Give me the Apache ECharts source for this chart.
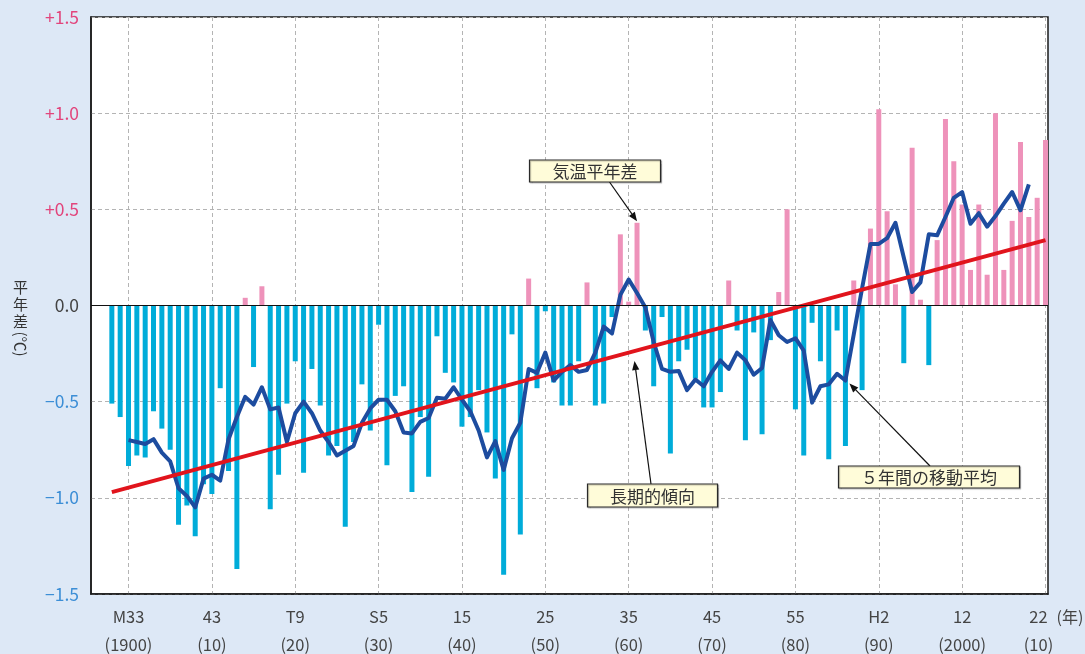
<!DOCTYPE html>
<html><head><meta charset="utf-8">
<script src="https://cdn.jsdelivr.net/npm/echarts@6/dist/echarts.min.js"></script>
<style>html,body{margin:0;padding:0;background:#DDE8F6;}#c{width:1085px;height:654px;}</style>
</head><body><div id="c"></div>
<script>
// ---- data ----
const firstYear = 1898;
const anomaly = [
 -0.51,-0.58,-0.835,-0.78,-0.79,-0.55,-0.64,-0.75,-1.14,-1.04,
 -1.20,-0.93,-0.98,-0.43,-0.86,-1.37,0.04,-0.32,0.10,-1.06,
 -0.88,-0.51,-0.29,-0.87,-0.33,-0.52,-0.78,-0.73,-1.15,-0.71,
 -0.41,-0.65,-0.10,-0.83,-0.47,-0.42,-0.97,-0.58,-0.89,-0.16,
 -0.35,-0.40,-0.63,-0.58,-0.44,-0.66,-0.90,-1.40,-0.15,-1.19,
 0.14,-0.43,-0.03,-0.40,-0.52,-0.52,-0.29,0.12,-0.52,-0.51,
 -0.06,0.37,0.02,0.43,-0.13,-0.42,-0.06,-0.77,-0.29,-0.23,
 -0.38,-0.53,-0.53,-0.45,0.13,-0.13,-0.70,-0.14,-0.67,-0.18,
 0.07,0.50,-0.54,-0.78,-0.09,-0.29,-0.80,-0.13,-0.73,0.13,
 -0.44,0.40,1.02,0.49,0.11,-0.30,0.82,0.03,-0.31,0.34,
 0.97,0.75,0.525,0.185,0.525,0.16,1.00,0.185,0.44,0.85,
 0.46,0.56,0.86
];
const maStartYear = 1900;
const movingAvg = [
 -0.70,-0.71,-0.72,-0.695,-0.765,-0.81,-0.95,-0.99,-1.05,-0.90,
 -0.88,-0.91,-0.695,-0.58,-0.475,-0.515,-0.425,-0.54,-0.53,-0.71,
 -0.56,-0.50,-0.56,-0.65,-0.71,-0.78,-0.755,-0.73,-0.61,-0.535,
 -0.49,-0.49,-0.55,-0.66,-0.665,-0.605,-0.585,-0.48,-0.485,-0.425,
 -0.49,-0.55,-0.65,-0.79,-0.705,-0.855,-0.69,-0.61,-0.33,-0.35,
 -0.245,-0.39,-0.345,-0.31,-0.345,-0.335,-0.245,-0.11,-0.145,0.055,
 0.135,0.065,-0.01,-0.19,-0.33,-0.345,-0.34,-0.44,-0.385,-0.42,
 -0.345,-0.285,-0.33,-0.245,-0.285,-0.36,-0.325,-0.075,-0.155,-0.19,
 -0.17,-0.235,-0.505,-0.42,-0.41,-0.355,-0.39,-0.15,0.09,0.32,
 0.32,0.35,0.43,0.25,0.07,0.12,0.37,0.365,0.46,0.56,
 0.59,0.425,0.48,0.41,0.465,0.53,0.59,0.495,0.63
];
const trendYears = [1898, 2010];
const trendValues = [-0.97, 0.34];
const tickYears = [1900,1910,1920,1930,1940,1950,1960,1970,1980,1990,2000,2010];
const eraLabels = ['M33','43','T9','S5','15','25','35','45','55','H2','12','22'];
const adLabels = ['(1900)','(10)','(20)','(30)','(40)','(50)','(60)','(70)','(80)','(90)','(2000)','(10)'];

// ---- build ----
const FONT = '"Noto Sans CJK JP", "Noto Sans", sans-serif';
const barData = anomaly.map((v, i) => [firstYear + i, v]);
const maData = movingAvg.map((v, i) => [maStartYear + i, v]);
const trendData = trendYears.map((y, i) => [y, trendValues[i]]);

const chart = echarts.init(document.getElementById('c'), null, {renderer: 'canvas'});
const dashed = {color: '#b4b4b4', width: 1, type: [4, 3]};
const option = {
  backgroundColor: '#DDE8F6',
  animation: false,
  grid: {left: 91, right: 37, top: 17, bottom: 60, show: true, backgroundColor: '#ffffff', borderColor: '#1a1a1a', borderWidth: 1.5, containLabel: false},
  xAxis: {
    type: 'value', min: 1895.5, max: 2010.3,
    axisLine: {show: true, onZero: false, lineStyle: {color: '#1a1a1a', width: 1.5}},
    axisTick: {show: false, customValues: tickYears},
    splitLine: {show: true, lineStyle: dashed},
    axisLabel: {
      customValues: tickYears, margin: 9,
      formatter: function (v) {
        const i = tickYears.indexOf(Math.round(v));
        if (i < 0) return '';
        if (i === tickYears.length - 1) return '{tl|' + eraLabels[i] + '}\n{tl|' + adLabels[i] + '}';
        return '{t|' + eraLabels[i] + '}\n{t|' + adLabels[i] + '}';
      },
      rich: {
        t: {fontSize: 16.5, color: '#444', lineHeight: 28, fontFamily: FONT},
        tl: {fontSize: 16.5, color: '#444', lineHeight: 28, fontFamily: FONT, padding: [0, 14, 0, 0]}
      }
    }
  },
  yAxis: {
    type: 'value', min: -1.5, max: 1.5, interval: 0.5,
    axisLine: {show: true, lineStyle: {color: '#1a1a1a', width: 1.5}},
    axisTick: {show: false},
    splitLine: {show: true, lineStyle: dashed},
    axisLabel: {
      margin: 12,
      formatter: function (v) {
        if (Math.abs(v) < 1e-9) return '{z|0.0}';
        if (v > 0) return '{p|+' + v.toFixed(1) + '}';
        return '{n|\u2212' + (-v).toFixed(1) + '}';
      },
      rich: {
        p: {fontSize: 17.5, color: '#E2457C', fontFamily: FONT},
        n: {fontSize: 17.5, color: '#3C8ED6', fontFamily: FONT},
        z: {fontSize: 17.5, color: '#444', fontFamily: FONT}
      }
    }
  },
  series: [
    {
      type: 'bar', data: barData, barWidth: 5, z: 2,
      itemStyle: {color: function (p) { return p.value[1] >= 0 ? '#EE92BA' : '#00ACD9'; }},
      markLine: {silent: true, symbol: 'none', label: {show: false},
        lineStyle: {color: '#111', width: 1.2, type: 'solid'},
        data: [{yAxis: 0}]}
    },
    {
      type: 'line', data: maData, symbol: 'none', z: 3,
      lineStyle: {color: '#1D4C9F', width: 4, join: 'round'}
    },
    {
      type: 'line', data: trendData, symbol: 'none', z: 4,
      lineStyle: {color: '#E1141C', width: 4}
    }
  ]
};
chart.setOption(option);

// ---- annotations ----
function px(x, y) { return chart.convertToPixel({gridIndex: 0}, [x, y]); }
function arrow(x1, y1, x2, y2) {
  const dx = x2 - x1, dy = y2 - y1, L = Math.sqrt(dx*dx + dy*dy);
  const ux = dx / L, uy = dy / L, hl = 9, hw = 3.6;
  const bx = x2 - ux * hl, by = y2 - uy * hl;
  return [
    {type: 'line', shape: {x1: x1, y1: y1, x2: bx, y2: by}, style: {stroke: '#111', lineWidth: 1.2}, z: 50},
    {type: 'polygon', shape: {points: [[x2, y2], [bx - uy * hw, by + ux * hw], [bx + uy * hw, by - ux * hw]]}, style: {fill: '#111'}, z: 50}
  ];
}
function box(x, y, w, h, text) {
  return [
    {type: 'rect', shape: {x: x, y: y, width: w, height: h}, style: {fill: '#FFFCD9', stroke: '#2a2a2a', lineWidth: 1.2, shadowColor: 'rgba(0,0,0,0.25)', shadowOffsetX: 1, shadowOffsetY: 1, shadowBlur: 1}, z: 51},
    {type: 'text', x: x + w / 2, y: y + h / 2 + 1, style: {text: text, font: '17px ' + FONT, fill: '#333', align: 'center', verticalAlign: 'middle'}, z: 52}
  ];
}
const idx1961 = 1961 - firstYear;
const tip1 = px(1961, anomaly[idx1961]);
const trendAt = function (yr) { return trendValues[0] + (trendValues[1] - trendValues[0]) * (yr - trendYears[0]) / (trendYears[1] - trendYears[0]); };
const tip2 = px(1960.7, trendAt(1960.7));
const tip3 = px(1986, movingAvg[1986 - maStartYear]);

const g = [].concat(
  arrow(609.5, 182, tip1[0], tip1[1] - 1.5),
  arrow(651, 484, tip2[0], tip2[1] + 10),
  arrow(930, 466, tip3[0] + 4, tip3[1] + 3),
  box(529.5, 160, 131, 22, '気温平年差'),
  box(587.5, 484, 130, 23, '長期的傾向'),
  box(838.5, 466, 181, 22, '５年間の移動平均'),
  [
    {type: 'text', x: 20.5, y: 279, style: {text: '平\n年\n差', font: '15px ' + FONT, fill: '#333', align: 'center', verticalAlign: 'top', lineHeight: 17}},
    {type: 'text', x: 20.5, y: 344, rotation: -Math.PI / 2, style: {text: '(℃)', font: '15px ' + FONT, fill: '#333', align: 'center', verticalAlign: 'middle'}},
    {type: 'text', x: 1070, y: 617, style: {text: '(年)', font: '16px ' + FONT, fill: '#444', align: 'center', verticalAlign: 'middle'}}
  ]
);
chart.setOption({graphic: g});
</script>
</body></html>
